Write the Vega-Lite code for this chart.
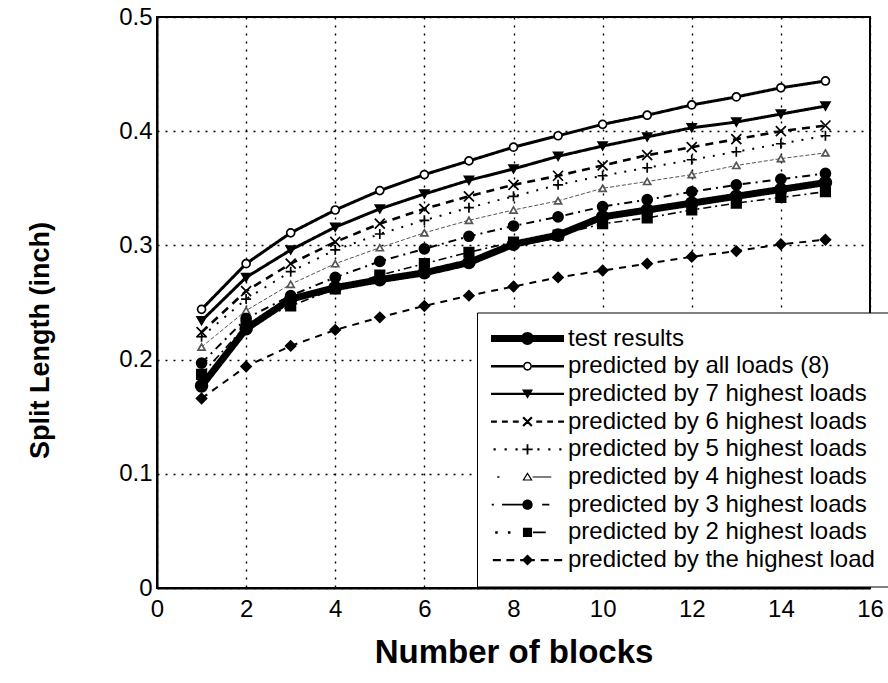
{
  "$schema": "https://vega.github.io/schema/vega-lite/v6.json",
  "width": 713,
  "height": 571,
  "autosize": {"type": "none"},
  "padding": {"left": 157, "top": 17, "right": 18, "bottom": 95},
  "background": "white",
  "config": {
    "font": "Liberation Sans",
    "view": {"stroke": "black", "strokeWidth": 2}
  },
  "datasets": {
    "d": [
      {"series": "test results", "x": 1, "y": 0.177}, {"series": "test results", "x": 2, "y": 0.227}, {"series": "test results", "x": 3, "y": 0.253}, {"series": "test results", "x": 4, "y": 0.263}, {"series": "test results", "x": 5, "y": 0.270}, {"series": "test results", "x": 6, "y": 0.276}, {"series": "test results", "x": 7, "y": 0.285}, {"series": "test results", "x": 8, "y": 0.301}, {"series": "test results", "x": 9, "y": 0.309}, {"series": "test results", "x": 10, "y": 0.325}, {"series": "test results", "x": 11, "y": 0.331}, {"series": "test results", "x": 12, "y": 0.337}, {"series": "test results", "x": 13, "y": 0.343}, {"series": "test results", "x": 14, "y": 0.349}, {"series": "test results", "x": 15, "y": 0.355},
      {"series": "predicted by all loads (8)", "x": 1, "y": 0.244}, {"series": "predicted by all loads (8)", "x": 2, "y": 0.284}, {"series": "predicted by all loads (8)", "x": 3, "y": 0.311}, {"series": "predicted by all loads (8)", "x": 4, "y": 0.331}, {"series": "predicted by all loads (8)", "x": 5, "y": 0.348}, {"series": "predicted by all loads (8)", "x": 6, "y": 0.362}, {"series": "predicted by all loads (8)", "x": 7, "y": 0.374}, {"series": "predicted by all loads (8)", "x": 8, "y": 0.386}, {"series": "predicted by all loads (8)", "x": 9, "y": 0.396}, {"series": "predicted by all loads (8)", "x": 10, "y": 0.406}, {"series": "predicted by all loads (8)", "x": 11, "y": 0.414}, {"series": "predicted by all loads (8)", "x": 12, "y": 0.423}, {"series": "predicted by all loads (8)", "x": 13, "y": 0.430}, {"series": "predicted by all loads (8)", "x": 14, "y": 0.438}, {"series": "predicted by all loads (8)", "x": 15, "y": 0.444},
      {"series": "predicted by 7 highest loads", "x": 1, "y": 0.234}, {"series": "predicted by 7 highest loads", "x": 2, "y": 0.272}, {"series": "predicted by 7 highest loads", "x": 3, "y": 0.296}, {"series": "predicted by 7 highest loads", "x": 4, "y": 0.316}, {"series": "predicted by 7 highest loads", "x": 5, "y": 0.332}, {"series": "predicted by 7 highest loads", "x": 6, "y": 0.345}, {"series": "predicted by 7 highest loads", "x": 7, "y": 0.357}, {"series": "predicted by 7 highest loads", "x": 8, "y": 0.367}, {"series": "predicted by 7 highest loads", "x": 9, "y": 0.378}, {"series": "predicted by 7 highest loads", "x": 10, "y": 0.387}, {"series": "predicted by 7 highest loads", "x": 11, "y": 0.395}, {"series": "predicted by 7 highest loads", "x": 12, "y": 0.403}, {"series": "predicted by 7 highest loads", "x": 13, "y": 0.408}, {"series": "predicted by 7 highest loads", "x": 14, "y": 0.415}, {"series": "predicted by 7 highest loads", "x": 15, "y": 0.422},
      {"series": "predicted by 6 highest loads", "x": 1, "y": 0.224}, {"series": "predicted by 6 highest loads", "x": 2, "y": 0.260}, {"series": "predicted by 6 highest loads", "x": 3, "y": 0.284}, {"series": "predicted by 6 highest loads", "x": 4, "y": 0.303}, {"series": "predicted by 6 highest loads", "x": 5, "y": 0.319}, {"series": "predicted by 6 highest loads", "x": 6, "y": 0.332}, {"series": "predicted by 6 highest loads", "x": 7, "y": 0.343}, {"series": "predicted by 6 highest loads", "x": 8, "y": 0.353}, {"series": "predicted by 6 highest loads", "x": 9, "y": 0.361}, {"series": "predicted by 6 highest loads", "x": 10, "y": 0.370}, {"series": "predicted by 6 highest loads", "x": 11, "y": 0.379}, {"series": "predicted by 6 highest loads", "x": 12, "y": 0.386}, {"series": "predicted by 6 highest loads", "x": 13, "y": 0.393}, {"series": "predicted by 6 highest loads", "x": 14, "y": 0.400}, {"series": "predicted by 6 highest loads", "x": 15, "y": 0.405},
      {"series": "predicted by 5 highest loads", "x": 1, "y": 0.220}, {"series": "predicted by 5 highest loads", "x": 2, "y": 0.253}, {"series": "predicted by 5 highest loads", "x": 3, "y": 0.277}, {"series": "predicted by 5 highest loads", "x": 4, "y": 0.296}, {"series": "predicted by 5 highest loads", "x": 5, "y": 0.310}, {"series": "predicted by 5 highest loads", "x": 6, "y": 0.322}, {"series": "predicted by 5 highest loads", "x": 7, "y": 0.333}, {"series": "predicted by 5 highest loads", "x": 8, "y": 0.343}, {"series": "predicted by 5 highest loads", "x": 9, "y": 0.353}, {"series": "predicted by 5 highest loads", "x": 10, "y": 0.361}, {"series": "predicted by 5 highest loads", "x": 11, "y": 0.368}, {"series": "predicted by 5 highest loads", "x": 12, "y": 0.375}, {"series": "predicted by 5 highest loads", "x": 13, "y": 0.382}, {"series": "predicted by 5 highest loads", "x": 14, "y": 0.389}, {"series": "predicted by 5 highest loads", "x": 15, "y": 0.396},
      {"series": "predicted by 4 highest loads", "x": 1, "y": 0.211}, {"series": "predicted by 4 highest loads", "x": 2, "y": 0.243}, {"series": "predicted by 4 highest loads", "x": 3, "y": 0.266}, {"series": "predicted by 4 highest loads", "x": 4, "y": 0.284}, {"series": "predicted by 4 highest loads", "x": 5, "y": 0.298}, {"series": "predicted by 4 highest loads", "x": 6, "y": 0.311}, {"series": "predicted by 4 highest loads", "x": 7, "y": 0.322}, {"series": "predicted by 4 highest loads", "x": 8, "y": 0.331}, {"series": "predicted by 4 highest loads", "x": 9, "y": 0.339}, {"series": "predicted by 4 highest loads", "x": 10, "y": 0.350}, {"series": "predicted by 4 highest loads", "x": 11, "y": 0.356}, {"series": "predicted by 4 highest loads", "x": 12, "y": 0.362}, {"series": "predicted by 4 highest loads", "x": 13, "y": 0.370}, {"series": "predicted by 4 highest loads", "x": 14, "y": 0.376}, {"series": "predicted by 4 highest loads", "x": 15, "y": 0.381},
      {"series": "predicted by 3 highest loads", "x": 1, "y": 0.197}, {"series": "predicted by 3 highest loads", "x": 2, "y": 0.236}, {"series": "predicted by 3 highest loads", "x": 3, "y": 0.256}, {"series": "predicted by 3 highest loads", "x": 4, "y": 0.272}, {"series": "predicted by 3 highest loads", "x": 5, "y": 0.286}, {"series": "predicted by 3 highest loads", "x": 6, "y": 0.297}, {"series": "predicted by 3 highest loads", "x": 7, "y": 0.308}, {"series": "predicted by 3 highest loads", "x": 8, "y": 0.317}, {"series": "predicted by 3 highest loads", "x": 9, "y": 0.325}, {"series": "predicted by 3 highest loads", "x": 10, "y": 0.334}, {"series": "predicted by 3 highest loads", "x": 11, "y": 0.340}, {"series": "predicted by 3 highest loads", "x": 12, "y": 0.347}, {"series": "predicted by 3 highest loads", "x": 13, "y": 0.353}, {"series": "predicted by 3 highest loads", "x": 14, "y": 0.358}, {"series": "predicted by 3 highest loads", "x": 15, "y": 0.363},
      {"series": "predicted by 2 highest loads", "x": 1, "y": 0.187}, {"series": "predicted by 2 highest loads", "x": 2, "y": 0.230}, {"series": "predicted by 2 highest loads", "x": 3, "y": 0.247}, {"series": "predicted by 2 highest loads", "x": 4, "y": 0.262}, {"series": "predicted by 2 highest loads", "x": 5, "y": 0.274}, {"series": "predicted by 2 highest loads", "x": 6, "y": 0.284}, {"series": "predicted by 2 highest loads", "x": 7, "y": 0.294}, {"series": "predicted by 2 highest loads", "x": 8, "y": 0.303}, {"series": "predicted by 2 highest loads", "x": 9, "y": 0.309}, {"series": "predicted by 2 highest loads", "x": 10, "y": 0.319}, {"series": "predicted by 2 highest loads", "x": 11, "y": 0.324}, {"series": "predicted by 2 highest loads", "x": 12, "y": 0.331}, {"series": "predicted by 2 highest loads", "x": 13, "y": 0.337}, {"series": "predicted by 2 highest loads", "x": 14, "y": 0.342}, {"series": "predicted by 2 highest loads", "x": 15, "y": 0.347},
      {"series": "predicted by the highest load", "x": 1, "y": 0.166}, {"series": "predicted by the highest load", "x": 2, "y": 0.194}, {"series": "predicted by the highest load", "x": 3, "y": 0.212}, {"series": "predicted by the highest load", "x": 4, "y": 0.226}, {"series": "predicted by the highest load", "x": 5, "y": 0.237}, {"series": "predicted by the highest load", "x": 6, "y": 0.247}, {"series": "predicted by the highest load", "x": 7, "y": 0.256}, {"series": "predicted by the highest load", "x": 8, "y": 0.264}, {"series": "predicted by the highest load", "x": 9, "y": 0.272}, {"series": "predicted by the highest load", "x": 10, "y": 0.278}, {"series": "predicted by the highest load", "x": 11, "y": 0.284}, {"series": "predicted by the highest load", "x": 12, "y": 0.290}, {"series": "predicted by the highest load", "x": 13, "y": 0.295}, {"series": "predicted by the highest load", "x": 14, "y": 0.301}, {"series": "predicted by the highest load", "x": 15, "y": 0.305}
    ]
  },
  "data": {"name": "d"},
  "encoding": {
    "x": {
      "field": "x", "type": "quantitative",
      "scale": {"domain": [0, 16], "nice": false, "zero": false},
      "axis": {
        "values": [0, 2, 4, 6, 8, 10, 12, 14, 16],
        "grid": true, "gridDash": [2, 6], "gridColor": "black", "gridWidth": 1.4, "gridOpacity": 1,
        "domainColor": "black", "domainWidth": 2, "ticks": false,
        "labelFontSize": 24, "labelColor": "black", "labelPadding": 9, "labelFlush": false, "labelOverlap": false,
        "title": "Number of blocks", "titleFontSize": 33, "titleFontWeight": "bold", "titleColor": "black",
        "titleY": 64, "titleBaseline": "middle"
      }
    },
    "y": {
      "field": "y", "type": "quantitative",
      "scale": {"domain": [0, 0.5], "nice": false, "zero": false},
      "axis": {
        "values": [0, 0.1, 0.2, 0.3, 0.4, 0.5],
        "labelExpr": "datum.value == 0 ? '0' : format(datum.value, '.1f')",
        "grid": true, "gridDash": [2, 6], "gridColor": "black", "gridWidth": 1.4, "gridOpacity": 1,
        "domainColor": "black", "domainWidth": 2, "ticks": false,
        "labelFontSize": 24, "labelColor": "black", "labelPadding": 5, "labelFlush": false, "labelOverlap": false,
        "title": "Split Length (inch)", "titleFontSize": 27, "titleFontWeight": "bold", "titleColor": "black",
        "titleX": -117, "titleY": 323, "titleAngle": -90, "titleAlign": "center", "titleBaseline": "middle"
      }
    }
  },
  "layer": [
    {
      "mark": {"type": "line", "strokeCap": "butt"},
      "encoding": {
        "strokeDash": {
          "field": "series", "type": "nominal", "legend": null,
          "scale": {
            "domain": ["test results", "predicted by all loads (8)", "predicted by 7 highest loads", "predicted by 6 highest loads", "predicted by 5 highest loads", "predicted by 4 highest loads", "predicted by 3 highest loads", "predicted by 2 highest loads", "predicted by the highest load"],
            "range": [[1, 0], [1, 0], [1, 0], [8, 6], [2, 8], [4, 2], [8, 5, 2, 5], [8, 4, 2, 4], [7, 6]]
          }
        },
        "strokeWidth": {
          "field": "series", "type": "nominal", "legend": null,
          "scale": {
            "type": "ordinal",
            "domain": ["test results", "predicted by all loads (8)", "predicted by 7 highest loads", "predicted by 6 highest loads", "predicted by 5 highest loads", "predicted by 4 highest loads", "predicted by 3 highest loads", "predicted by 2 highest loads", "predicted by the highest load"],
            "range": [7, 3, 3, 2.6, 2, 1, 2, 1.6, 2]
          }
        },
        "stroke": {
          "field": "series", "type": "nominal", "legend": null,
          "scale": {
            "domain": ["test results", "predicted by all loads (8)", "predicted by 7 highest loads", "predicted by 6 highest loads", "predicted by 5 highest loads", "predicted by 4 highest loads", "predicted by 3 highest loads", "predicted by 2 highest loads", "predicted by the highest load"],
            "range": ["#000000", "#000000", "#000000", "#000000", "#000000", "#555555", "#000000", "#000000", "#000000"]
          }
        }
      }
    },
    {
      "mark": {"type": "point", "filled": false, "opacity": 1, "strokeWidth": 1.7},
      "encoding": {
        "shape": {
          "field": "series", "type": "nominal", "legend": null,
          "scale": {
            "domain": ["test results", "predicted by all loads (8)", "predicted by 7 highest loads", "predicted by 6 highest loads", "predicted by 5 highest loads", "predicted by 4 highest loads", "predicted by 3 highest loads", "predicted by 2 highest loads", "predicted by the highest load"],
            "range": ["circle", "circle", "triangle-down", "M-1,-1L1,1M-1,1L1,-1", "M-1,0H1M0,-1V1", "triangle-up", "circle", "square", "diamond"]
          }
        },
        "size": {
          "field": "series", "type": "nominal", "legend": null,
          "scale": {
            "type": "ordinal",
            "domain": ["test results", "predicted by all loads (8)", "predicted by 7 highest loads", "predicted by 6 highest loads", "predicted by 5 highest loads", "predicted by 4 highest loads", "predicted by 3 highest loads", "predicted by 2 highest loads", "predicted by the highest load"],
            "range": [140, 64, 80, 100, 100, 50, 100, 90, 100]
          }
        },
        "fill": {
          "field": "series", "type": "nominal", "legend": null,
          "scale": {
            "domain": ["test results", "predicted by all loads (8)", "predicted by 7 highest loads", "predicted by 6 highest loads", "predicted by 5 highest loads", "predicted by 4 highest loads", "predicted by 3 highest loads", "predicted by 2 highest loads", "predicted by the highest load"],
            "range": ["#000000", "#ffffff", "#000000", "#000000", "#000000", "#ffffff", "#000000", "#000000", "#000000"]
          }
        },
        "stroke": {"field": "series", "type": "nominal", "legend": null}
      }
    },
    {
      "transform": [{"filter": "false"}],
      "mark": {"type": "point", "filled": true, "color": "black", "opacity": 1},
      "encoding": {
        "shape": {
          "field": "series", "type": "nominal",
          "scale": {
            "domain": ["test results", "predicted by all loads (8)", "predicted by 7 highest loads", "predicted by 6 highest loads", "predicted by 5 highest loads", "predicted by 4 highest loads", "predicted by 3 highest loads", "predicted by 2 highest loads", "predicted by the highest load"],
            "range": [
              "M-3.04,-0.29H3.04V0.29H-3.04Z M-0.54,0A0.54,0.54 0 1,1 0.54,0A0.54,0.54 0 1,1 -0.54,0Z",
              "M-3.04,-0.1H-0.37V0.1H-3.04Z M0.37,-0.1H3.04V0.1H0.37Z M-0.37,0A0.37,0.37 0 1,1 0.37,0A0.37,0.37 0 1,1 -0.37,0Z M-0.24,0A0.24,0.24 0 1,0 0.24,0A0.24,0.24 0 1,0 -0.24,0Z",
              "M-3.04,-0.1H3.04V0.1H-3.04Z M-0.46,-0.37L0.46,-0.37L0,0.4Z",
              "M-3.04,-0.09H-2.55V0.09H-3.04Z M-2.13,-0.09H-1.64V0.09H-2.13Z M-1.22,-0.09H-0.73V0.09H-1.22Z M0.73,-0.09H1.22V0.09H0.73Z M1.64,-0.09H2.13V0.09H1.64Z M2.55,-0.09H3.04V0.09H2.55Z M-0.43,-0.3L-0.3,-0.43L0.43,0.3L0.3,0.43Z M0.3,-0.43L0.43,-0.3L-0.3,0.43L-0.43,0.3Z",
              "M-2.83,-0.09H-2.65V0.09H-2.83Z M-1.91,-0.09H-1.73V0.09H-1.91Z M-1,-0.09H-0.82V0.09H-1Z M0.82,-0.09H1V0.09H0.82Z M1.73,-0.09H1.91V0.09H1.73Z M2.65,-0.09H2.83V0.09H2.65Z M-0.43,-0.076H0.43V0.076H-0.43Z M-0.076,-0.43H0.076V0.43H-0.076Z",
              "M-2.52,-0.06H-2.34V0.06H-2.52Z M0,-0.4L0.43,0.3L-0.43,0.3Z M0,-0.21L-0.26,0.2L0.26,0.2Z M0.43,-0.045H1.98V0.045H0.43Z",
              "M-2.98,-0.076H-2.8V0.076H-2.98Z M-2.13,-0.076H0V0.076H-2.13Z M-0.43,0A0.43,0.43 0 1,1 0.43,0A0.43,0.43 0 1,1 -0.43,0Z M1.22,-0.076H1.82V0.076H1.22Z",
              "M-2.69,-0.106H-2.48V0.106H-2.69Z M-1.63,-0.106H-1.42V0.106H-1.63Z M-0.38,-0.38H0.38V0.38H-0.38Z M0.46,-0.076H1.52V0.076H0.46Z",
              "M-2.89,-0.09H-2.22V0.09H-2.89Z M-1.76,-0.09H-1.1V0.09H-1.76Z M-0.61,-0.09H0.61V0.09H-0.61Z M1.1,-0.09H1.76V0.09H1.1Z M2.22,-0.09H2.89V0.09H2.22Z M0,-0.46L0.46,0L0,0.46L-0.46,0Z"
            ]
          },
          "legend": {
            "orient": "none", "legendX": 320, "legendY": 295.5, "title": null,
            "fillColor": "white", "strokeColor": "black", "padding": 14,
            "symbolSize": 576, "symbolStrokeWidth": 0, "symbolFillColor": "black", "symbolOffset": 24.5,
            "labelFontSize": 24, "labelColor": "black", "labelLimit": 0, "labelOffset": 28.5, "rowPadding": 3.7,
            "encode": {
              "legend": {"update": {"strokeWidth": {"value": 2.5}}},
              "labels": {"update": {"fill": {"signal": "datum.value === 'predicted by 4 highest loads' ? '#555555' : '#000000'"}}},
              "symbols": {"update": {"fill": {"signal": "datum.value === 'predicted by 4 highest loads' ? '#555555' : '#000000'"}, "opacity": {"value": 1}}}
            }
          }
        }
      }
    }
  ],
  "resolve": {"scale": {"shape": "independent"}}
}
